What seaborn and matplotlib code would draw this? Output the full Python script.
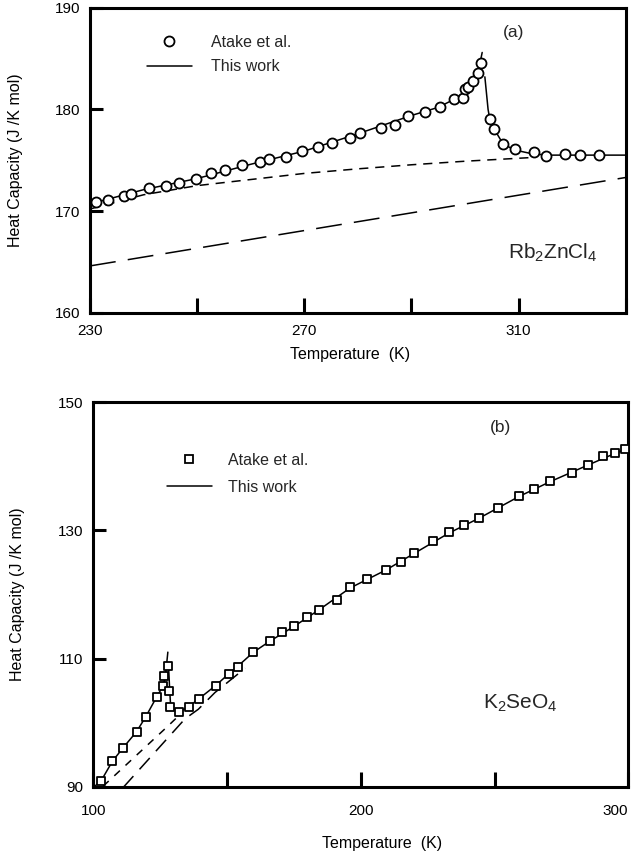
import numpy as np
import pandas as pd
import matplotlib
matplotlib.use('Agg')
import matplotlib.pyplot as plt
import seaborn as sns
from matplotlib.lines import Line2D

# (a) Rb2ZnCl4 : Atake et al. 측정값
T_a = [231.2, 233.4, 236.3, 237.6, 241.0, 244.2, 246.6, 249.8, 252.6, 255.2,
       258.4, 261.7, 263.4, 266.6, 269.6, 272.5, 275.1, 278.5, 280.4, 284.3,
       286.9, 289.3, 292.5, 295.3, 298.0, 299.6, 299.9, 300.5, 301.5, 302.4,
       302.9, 304.6, 305.4, 307.1, 309.3, 312.8, 315.1, 318.6, 321.4, 325.0]
Cp_a = [170.9, 171.1, 171.5, 171.7, 172.3, 172.5, 172.8, 173.2, 173.7, 174.0,
        174.5, 174.8, 175.1, 175.3, 175.9, 176.3, 176.7, 177.2, 177.7, 178.2,
        178.5, 179.3, 179.7, 180.2, 181.0, 181.1, 182.0, 182.2, 182.8, 183.6,
        184.6, 179.1, 178.1, 176.6, 176.1, 175.8, 175.4, 175.6, 175.5, 175.5]

# (a) This work (전이점 아래 / 위)
T_fit_a1 = [230.0, 240.0, 250.0, 260.0, 270.0, 280.0, 290.0, 295.0, 298.0, 300.0, 301.5, 302.5, 303.2]
Cp_fit_a1 = [170.7, 172.1, 173.2, 174.6, 175.9, 177.6, 179.4, 180.2, 181.0, 181.7, 182.6, 183.8, 185.6]
T_fit_a2 = [303.7, 304.3, 304.6, 305.4, 307.1, 309.3, 312.8, 316.0, 320.0, 330.0]
Cp_fit_a2 = [183.2, 180.0, 179.1, 178.1, 176.6, 176.0, 175.6, 175.5, 175.5, 175.5]

# (a) 기준선 (짧은 점선 / 긴 점선)
T_sd_a = [230, 240, 250, 260, 270, 280, 290, 300, 312]
Cp_sd_a = [170.2, 171.6, 172.5, 173.1, 173.7, 174.15, 174.55, 174.9, 175.25]
T_ld_a = [230, 330]
Cp_ld_a = [164.6, 173.3]

# (b) K2SeO4 : Atake et al. 측정값
T_b = [102.9, 107.2, 111.0, 116.2, 119.6, 123.7, 126.2, 126.4, 127.9, 128.5,
       128.8, 131.9, 135.7, 139.4, 145.8, 150.6, 154.3, 159.9, 166.0, 170.7,
       175.0, 179.8, 184.4, 191.0, 196.0, 202.5, 209.4, 215.0, 220.0, 226.9,
       233.1, 238.7, 244.3, 251.2, 259.3, 264.7, 270.9, 278.9, 285.1, 290.5,
       295.1, 298.9]
Cp_b = [90.9, 94.0, 96.0, 98.6, 100.9, 104.0, 105.8, 107.3, 108.9, 105.0,
        102.4, 101.6, 102.5, 103.7, 105.8, 107.6, 108.75, 111.1, 112.7, 114.1,
        115.0, 116.5, 117.6, 119.2, 121.1, 122.4, 123.8, 125.0, 126.45, 128.4,
        129.7, 130.8, 131.9, 133.4, 135.3, 136.4, 137.7, 139.0, 140.2, 141.6,
        142.1, 142.6]

# (b) This work
T_fit_b1 = [100.0, 102.9, 107.2, 111.0, 116.2, 119.6, 123.7, 126.2, 127.0, 127.9]
Cp_fit_b1 = [89.9, 90.9, 94.0, 96.0, 98.6, 100.9, 104.0, 105.8, 107.3, 111.0]
T_fit_b2 = [128.2, 128.6, 129.0, 131.9, 135.7, 139.4, 145.8, 150.6, 154.3, 159.9,
            166.0, 175.0, 184.4, 196.0, 209.4, 220.0, 233.1, 244.3, 259.3, 270.9,
            285.1, 295.1, 300.0]
Cp_fit_b2 = [108.5, 105.0, 102.2, 101.6, 102.5, 103.7, 105.8, 107.6, 108.9, 111.0,
             112.7, 115.0, 117.6, 121.0, 123.8, 126.4, 129.6, 131.9, 135.3, 137.6,
             140.2, 142.0, 142.8]

# (b) 기준선
T_sd_b = [103.7, 128.0, 132.5]
Cp_sd_b = [90.1, 99.5, 101.3]
T_ld_b = [111.2, 134.3, 139.3, 145.5, 156.8]
Cp_ld_b = [89.9, 100.6, 102.1, 104.7, 108.5]

sns.set_theme(style='ticks')
plt.rcParams['font.family'] = ['Liberation Sans', 'DejaVu Sans']
plt.rcParams['mathtext.fontset'] = 'custom'
plt.rcParams['mathtext.rm'] = 'Liberation Sans'
plt.rcParams['mathtext.default'] = 'rm'

fig = plt.figure(figsize=(6.34, 8.59), dpi=100)
ax1 = fig.add_axes([0.142, 0.636, 0.845, 0.355])
ax2 = fig.add_axes([0.147, 0.084, 0.844, 0.448])

line_kw = dict(color='black', linewidth=1.1, legend=False, sort=False, estimator=None)


def style_axes(ax, xlim, ylim, xticks, xlabels, yticks, xpad):
    ax.set_xlim(*xlim)
    ax.set_ylim(*ylim)
    ax.set_xticks(xticks)
    ax.set_xticklabels(xlabels)
    ax.set_yticks(yticks)
    ax.set_yticklabels([str(v) for v in yticks])
    for s in ax.spines.values():
        s.set_linewidth(2.2)
        s.set_color('black')
        s.set_visible(True)
    ax.tick_params(axis='x', direction='in', length=10.5, width=2.2, pad=xpad,
                   labelsize=11, colors='black')
    ax.tick_params(axis='y', direction='in', length=9.5, width=2.2, pad=7,
                   labelsize=11, colors='black')
    ax.set_ylabel('Heat Capacity (J /K mol)', fontsize=11.5, color='black')
    ax.set_xlabel('Temperature  (K)', fontsize=11.5, color='black')
    ax.set_facecolor('white')


# ---- (a) ----
sns.lineplot(x=T_ld_a, y=Cp_ld_a, ax=ax1, linestyle=(0, (17, 8)), **line_kw)
sns.lineplot(x=T_sd_a, y=Cp_sd_a, ax=ax1, linestyle=(0, (6, 4.5)), **line_kw)
sns.lineplot(x=T_fit_a1, y=Cp_fit_a1, ax=ax1, **line_kw)
sns.lineplot(x=T_fit_a2, y=Cp_fit_a2, ax=ax1, **line_kw)
sns.scatterplot(x=T_a, y=Cp_a, ax=ax1, marker='o', s=52, color='white',
                edgecolor='black', linewidth=1.3, zorder=3, legend=False)

style_axes(ax1, (230, 330), (160, 190), [230, 250, 270, 290, 310, 330],
           ['230', '', '270', '', '310', ''], [160, 170, 180, 190], 8)
ax1.yaxis.set_label_coords(-0.125, 0.5)
ax1.xaxis.set_label_coords(0.485, -0.112)

h_a = [Line2D([], [], marker='o', ls='none', ms=7.2, mfc='white', mec='black', mew=1.3),
       Line2D([], [], color='black', lw=1.1)]
ax1.legend(h_a, ['Atake et al.', 'This work'], loc='upper left', bbox_to_anchor=(0.106, 0.912),
           frameon=False, fontsize=11.5, handlelength=2.8, handletextpad=1.2,
           labelspacing=0.6, borderaxespad=0, borderpad=0)
ax1.text(0.77, 0.918, '(a)', transform=ax1.transAxes, fontsize=12.5, va='center')
ax1.text(0.78, 0.197, r'Rb$_2$ZnCl$_4$', transform=ax1.transAxes, fontsize=15, va='center')

# ---- (b) ----
sns.lineplot(x=T_ld_b, y=Cp_ld_b, ax=ax2, linestyle=(0, (10, 6)), **line_kw)
sns.lineplot(x=T_sd_b, y=Cp_sd_b, ax=ax2, linestyle=(0, (5, 5)), **line_kw)
sns.lineplot(x=T_fit_b1, y=Cp_fit_b1, ax=ax2, **line_kw)
sns.lineplot(x=T_fit_b2, y=Cp_fit_b2, ax=ax2, **line_kw)
sns.scatterplot(x=T_b, y=Cp_b, ax=ax2, marker='s', s=34, color='white',
                edgecolor='black', linewidth=1.3, zorder=3, legend=False)

style_axes(ax2, (100, 300), (90, 150), [100, 150, 200, 250, 300],
           ['100', '', '200', '', '300'], [90, 110, 130, 150], 12)
ax2.get_xticklabels()[-1].set_horizontalalignment('right')
ax2.yaxis.set_label_coords(-0.128, 0.5)
ax2.xaxis.set_label_coords(0.54, -0.128)

h_b = [Line2D([], [], marker='s', ls='none', ms=5.8, mfc='white', mec='black', mew=1.3),
       Line2D([], [], color='black', lw=1.1)]
ax2.legend(h_b, ['Atake et al.', 'This work'], loc='upper left', bbox_to_anchor=(0.138, 0.868),
           frameon=False, fontsize=11.5, handlelength=2.8, handletextpad=1.0,
           labelspacing=0.75, borderaxespad=0, borderpad=0)
ax2.text(0.742, 0.935, '(b)', transform=ax2.transAxes, fontsize=12.5, va='center')
ax2.text(0.729, 0.218, r'K$_2$SeO$_4$', transform=ax2.transAxes, fontsize=15, va='center')

fig.savefig('out.png', dpi=100, facecolor='white')
